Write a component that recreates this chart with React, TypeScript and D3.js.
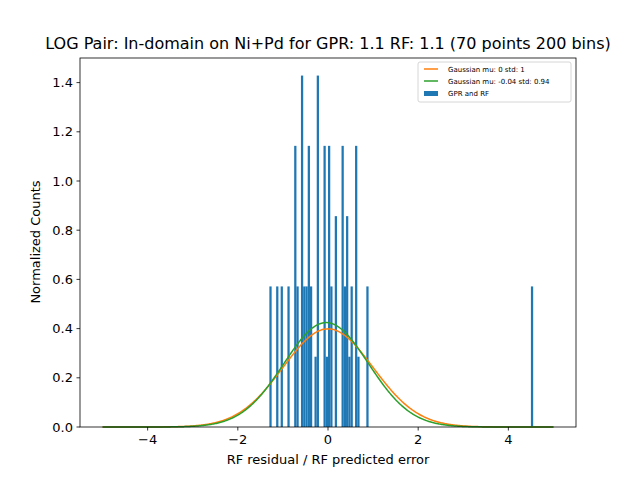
import React from "react";
import * as d3 from "d3";

const binLeft = [-1.3,-1.15,-1.05,-0.9,-0.75,-0.7,-0.6,-0.55,-0.5,-0.45,-0.4,-0.3,-0.25,-0.1,-0.05,0,0.05,0.15,0.3,0.35,0.4,0.45,0.5,0.6,0.65,0.85,4.5];
const binCounts = [2,2,2,2,4,2,5,2,2,4,2,1,5,4,1,4,2,3,4,2,3,1,2,4,1,2,2];
const binWidth = 0.05;
const nPoints = 70;
const gaussians = [
  { label: "Gaussian mu: 0 std: 1", mu: 0, sd: 1, color: "#ff7f0e" },
  { label: "Gaussian mu: -0.04 std: 0.94", mu: -0.04, sd: 0.94, color: "#2ca02c" },
];
const xTicks = [-4, -2, 0, 2, 4];
const yTicks = [0, 0.2, 0.4, 0.6, 0.8, 1.0, 1.2, 1.4];

export default function App() {
  const L = 80, R = 576, T = 58, B = 427;
  const x = d3.scaleLinear().domain([-5.5, 5.5]).range([L, R]);
  const y = d3.scaleLinear().domain([0, 1.5]).range([B, T]);
  const xs = d3.range(0, 501).map((i) => -5 + i * 0.02);
  const font = "DejaVu Sans, sans-serif";
  return (
    <svg width={640} height={480} style={{ position: "absolute", left: 0, top: 0 }} fontFamily={font}>
      <rect width={640} height={480} fill="#fff" />
      {binLeft.map((b, i) => {
        const h = binCounts[i] / (nPoints * binWidth);
        return <rect key={i} x={x(b)} width={x(b + binWidth) - x(b)} y={y(h)} height={B - y(h)} fill="#1f77b4" />;
      })}
      {gaussians.map((g) => {
        const line = d3.line<number>().x((v) => x(v)).y((v) => y(Math.exp(-0.5 * ((v - g.mu) / g.sd) ** 2) / (g.sd * Math.sqrt(2 * Math.PI))));
        return <path key={g.label} d={line(xs) || ""} fill="none" stroke={g.color} strokeWidth={1.5} />;
      })}
      <rect x={L} y={T} width={R - L} height={B - T} fill="none" stroke="#000" strokeWidth={0.8} />
      {xTicks.map((t) => (
        <g key={t}>
          <line x1={x(t)} x2={x(t)} y1={B} y2={B + 3.5} stroke="#000" strokeWidth={0.8} />
          <text x={x(t)} y={B + 17} fontSize={13} textAnchor="middle">{t < 0 ? "\u2212" + Math.abs(t) : t}</text>
        </g>
      ))}
      {yTicks.map((t) => (
        <g key={t}>
          <line x1={L - 3.5} x2={L} y1={y(t)} y2={y(t)} stroke="#000" strokeWidth={0.8} />
          <text x={L - 7} y={y(t) + 4.5} fontSize={13} textAnchor="end">{t.toFixed(1)}</text>
        </g>
      ))}
      <text x={328} y={464} fontSize={13} textAnchor="middle">RF residual / RF predicted error</text>
      <text transform="translate(40,242) rotate(-90)" fontSize={13} textAnchor="middle">Normalized Counts</text>
      <text x={328} y={49} fontSize={16} textAnchor="middle">LOG Pair: In-domain on Ni+Pd for GPR: 1.1 RF: 1.1 (70 points 200 bins)</text>
      <g>
        <rect x={418} y={62} width={153} height={40} fill="#fff" stroke="#ccc" strokeWidth={0.8} rx={2} />
        {gaussians.map((g, i) => (
          <g key={g.label}>
            <line x1={424} x2={438} y1={69 + i * 12} y2={69 + i * 12} stroke={g.color} strokeWidth={1.5} />
            <text x={448} y={71.5 + i * 12} fontSize={7}>{g.label}</text>
          </g>
        ))}
        <rect x={424} y={91} width={14} height={5} fill="#1f77b4" />
        <text x={448} y={96} fontSize={7}>GPR and RF</text>
      </g>
    </svg>
  );
}
